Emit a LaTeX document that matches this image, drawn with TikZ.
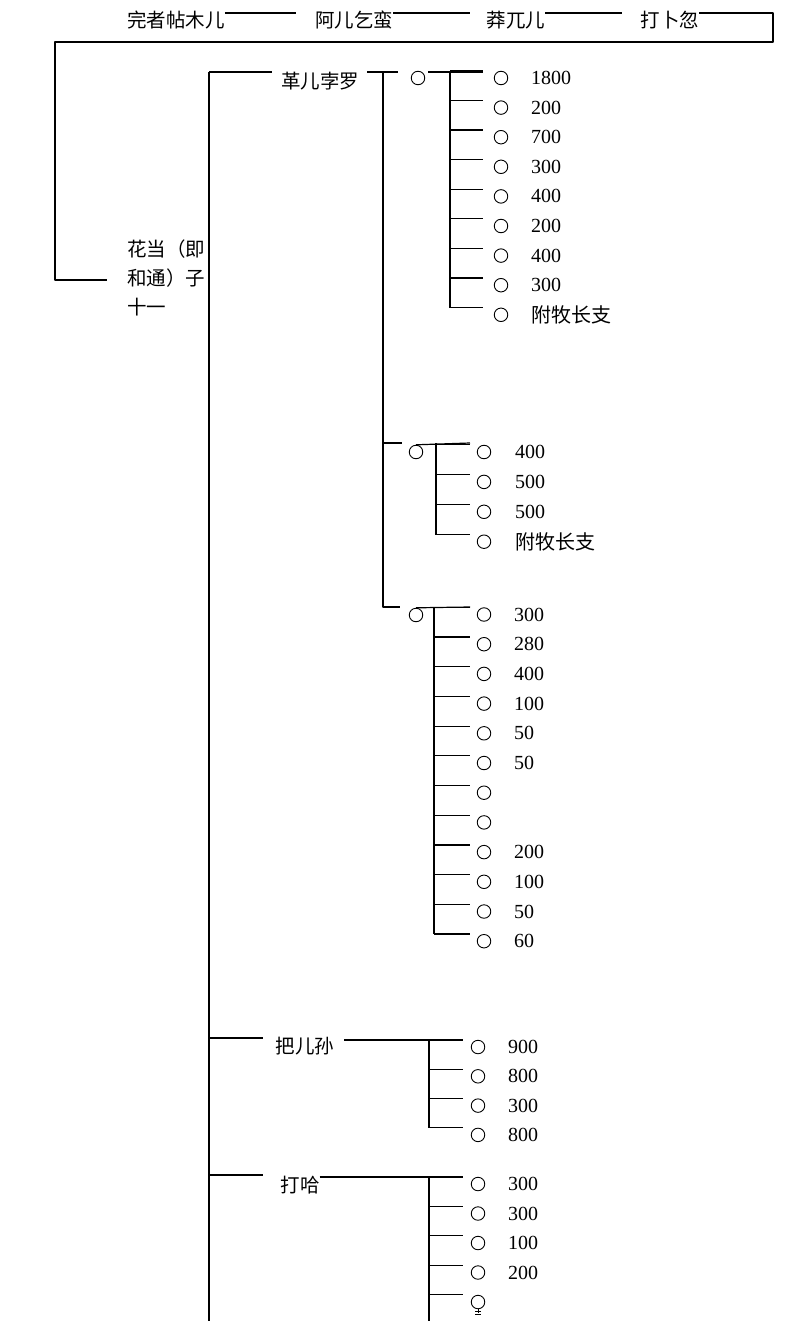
\documentclass[tikz,border=0pt]{standalone}
\usepackage{fontspec}
\setmainfont{Liberation Serif}
\newfontfamily\cjkfont{Noto Sans CJK SC}

\begin{document}
\begin{tikzpicture}[
  x=1pt,
  y=-1pt,
  line join=round,
  link/.style={draw=black,line width=1.2pt},
  person/.style={font=\cjkfont\fontsize{19.5}{29}\selectfont,inner sep=0pt},
  ring/.style={circle,draw=black,line width=0.9pt,minimum size=13.5pt,inner sep=0pt},
  amount/.style={font=\fontsize{20}{24}\selectfont,anchor=west,inner sep=0pt}
]
  % Keep the page frame of the scanned table.
  \useasboundingbox (0,0) rectangle (800,1321);

  % Line of ancestors across the top, closed by the frame on the left.
  \node[person] (anc1) at (176,20) {完者帖木儿};
  \node[person] (anc2) at (354,20) {阿儿乞蛮};
  \node[person] (anc3) at (516,20) {莽兀儿};
  \node[person] (anc4) at (670,20) {打卜忽};
  \coordinate (e1) at (296,13);
  \coordinate (e2) at (470,13);
  \coordinate (e3) at (622,13);
  \coordinate (e4) at (773,13);
  \coordinate (fr1) at (773,42);
  \coordinate (fr2) at (55,42);
  \coordinate (fr3) at (55,280);
  \coordinate (fr4) at (107,280);
  \draw[link] (anc1.east |- e1) -- (e1);
  \draw[link] (anc2.east |- e2) -- (e2);
  \draw[link] (anc3.east |- e3) -- (e3);
  \draw[link] (anc4.east |- e4) -- (e4) -- (fr1) -- (fr2) -- (fr3) -- (fr4);

  \node[person,align=left,anchor=west] (head) at (127,278) {花当（即\\和通）子\\十一};

  % Main stem of the sons.
  \coordinate (m0) at (209,72);
  \coordinate (mb) at (209,1321);
  \draw[link] (m0) -- (mb);

  % First son with three households.
  \node[person] (son1) at (320,81) {革儿孛罗};
  \coordinate (s1in) at (272,72);
  \coordinate (s1a) at (367,72);
  \coordinate (s1b) at (398,72);
  \coordinate (k0) at (383,72);
  \coordinate (k1) at (383,443);
  \coordinate (k2) at (383,607);
  \coordinate (k1e) at (402,443);
  \coordinate (k2e) at (400,607);
  \draw[link] (m0) -- (s1in);
  \draw[link] (s1a) -- (s1b);
  \draw[link] (k0) -- (k2) -- (k2e);
  \draw[link] (k1) -- (k1e);

  \node[ring] (h1) at (418,78) {};
  \node[ring] (h2) at (416,452) {};
  \node[ring] (h3) at (416,615) {};
  \coordinate (p1) at (450,72);
  \coordinate (p2) at (436,443);
  \coordinate (p3) at (434,607);
  \draw[link] (428,72) -- (483,72);
  \draw[link] (h2.north) -- (470,443);
  \draw[link] (h3.north) -- (470,607);

  \foreach \v [count=\i from 0] in {1800,200,700,300,400,200,400,300,{\cjkfont 附牧长支}} {
    \node[ring] (c1-\i) at (501,72+29.6*\i+6) {};
    \node[amount] (n1-\i) at (531,72+29.6*\i+6) {\v};
    \draw[link] (p1 |- c1-\i.north) -- ++(33,0);
  }
  \draw[link] (p1) -- (p1 |- c1-8.north);

  \foreach \v [count=\i from 0] in {400,500,500,{\cjkfont 附牧长支}} {
    \node[ring] (c2-\i) at (484,443+29.9*\i+9) {};
    \node[amount] (n2-\i) at (515,443+29.9*\i+9) {\v};
    \draw[link] (p2 |- c2-\i.north) -- ++(34,0);
  }
  \draw[link] (p2) -- (p2 |- c2-3.north);

  \foreach \v [count=\i from 0] in {300,280,400,100,50,50,{},{},200,100,50,60} {
    \node[ring] (c3-\i) at (484,607+29.7*\i+7.5) {};
    \node[amount] (n3-\i) at (514,607+29.7*\i+7.5) {\v};
    \draw[link] (p3 |- c3-\i.north) -- ++(36,0);
  }
  \draw[link] (p3) -- (p3 |- c3-11.north);

  % Second son.
  \node[person] (son2) at (305,1046) {把儿孙};
  \coordinate (s2in) at (263,1038);
  \coordinate (p4) at (429,1040);
  \coordinate (p4e) at (463,1040);
  \draw[link] (m0 |- s2in) -- (s2in);
  \draw[link] (son2.east |- p4) ++(10,0) -- (p4e);
  \foreach \v [count=\i from 0] in {900,800,300,800} {
    \node[ring] (c4-\i) at (478,1040+29.3*\i+7) {};
    \node[amount] (n4-\i) at (508,1040+29.3*\i+7) {\v};
    \draw[link] (p4 |- c4-\i.north) -- ++(34,0);
  }
  \draw[link] (p4) -- (p4 |- c4-3.north);

  % Third son, running off the page.
  \node[person] (son3) at (300,1185) {打哈};
  \coordinate (s3in) at (263,1175);
  \coordinate (p5) at (429,1177);
  \coordinate (p5e) at (463,1177);
  \coordinate (p5b) at (429,1321);
  \draw[link] (m0 |- s3in) -- (s3in);
  \draw[link] (son3.east |- p5) -- (p5e);
  \foreach \v [count=\i from 0] in {300,300,100,200,{}} {
    \node[ring] (c5-\i) at (478,1177+29.5*\i+7) {};
    \node[amount] (n5-\i) at (508,1177+29.5*\i+7) {\v};
    \draw[link] (p5 |- c5-\i.north) -- ++(34,0);
  }
  \draw[link] (p5) -- (p5b);
  \draw[line width=0.7pt] (c5-4.south) -- ++(0,4) ++(-3,-1.5) -- ++(6,0) ++(-6,3) -- ++(6,0);
\end{tikzpicture}
\end{document}
